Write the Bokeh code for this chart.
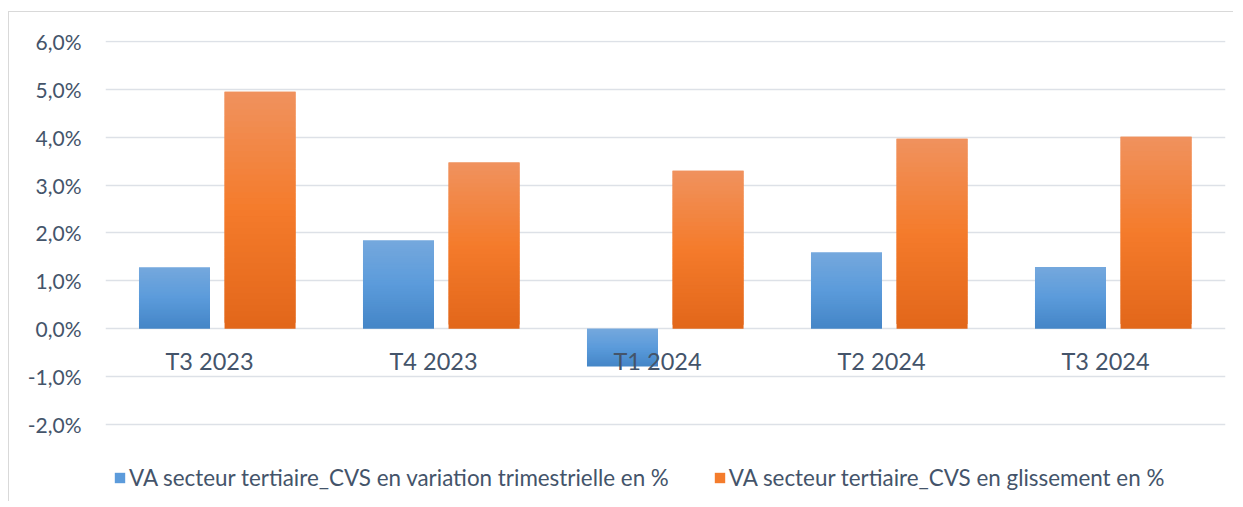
from bokeh.plotting import figure
from bokeh.models import (Range1d, FixedTicker, CustomJSTickFormatter, Legend, LegendItem,
                          ColumnDataSource)
from bokeh.core.properties import value
from bokeh.embed import file_html
from bokeh.resources import INLINE

categories = ["T3 2023", "T4 2023", "T1 2024", "T2 2024", "T3 2024"]
variation_trim = [1.28, 1.84, -0.79, 1.59, 1.29]
glissement = [4.95, 3.47, 3.30, 3.97, 4.01]
y_ticks = [-2, -1, 0, 1, 2, 3, 4, 5, 6]
series_names = ["VA secteur tertiaire_CVS en variation trimestrielle en %",
                "VA secteur tertiaire_CVS en glissement en %"]

FONT = "Lato"
TXT = "#44546A"
GRID = "#DDE1E7"

blue_stops = [(0.0, "#75A8DD"), (0.5, "#5B9BDB"), (1.0, "#4485C6")]
orange_stops = [(0.0, "#F0925E"), (0.5, "#F47B2B"), (1.0, "#E2661A")]


def hex2rgb(h):
    h = h.lstrip("#")
    return tuple(int(h[i:i + 2], 16) for i in (0, 2, 4))


def interp(stops, t):
    for (t0, c0), (t1, c1) in zip(stops[:-1], stops[1:]):
        if t0 <= t <= t1:
            f = (t - t0) / (t1 - t0) if t1 > t0 else 0
            a, b = hex2rgb(c0), hex2rgb(c1)
            return "#%02x%02x%02x" % tuple(round(a[k] + (b[k] - a[k]) * f) for k in range(3))
    return stops[-1][1]


def gradient_source(vals, offset, stops, n=40):
    # slices overlap the next one, so the gradient has no seams
    xs, tops, bottoms, colors = [], [], [], []
    for j in range(n):
        for i, v in enumerate(vals):
            lo, hi = min(0.0, v), max(0.0, v)
            y0 = lo + (hi - lo) * j / n
            y1 = lo + (hi - lo) * min(j + 2, n) / n
            t = 1.0 - (j + 0.5) / n
            xs.append(i + 0.5 + offset)
            bottoms.append(y0)
            tops.append(y1)
            colors.append(interp(stops, t))
    return ColumnDataSource(dict(x=xs, top=tops, bottom=bottoms, color=colors))


p = figure(width=1225, height=490, output_backend="svg", toolbar_location=None,
           x_range=Range1d(0, len(categories)), y_range=Range1d(-3.630, 6.02),
           min_border_left=96, min_border_right=9, min_border_top=28, min_border_bottom=0)
p.styles = {"margin-left": "8px", "margin-top": "11px",
            "border-top": "1px solid #D9D9D9", "border-left": "1px solid #D9D9D9"}
p.outline_line_color = None
p.background_fill_color = "white"
p.border_fill_color = "white"

p.xaxis.visible = False
p.xgrid.visible = False
p.yaxis.ticker = FixedTicker(ticks=y_ticks)
p.yaxis.formatter = CustomJSTickFormatter(
    code="return tick.toFixed(1).replace('.', ',') + '%';")
p.yaxis.axis_line_color = None
p.yaxis.major_tick_line_color = None
p.yaxis.minor_tick_line_color = None
p.yaxis.major_tick_in = 0
p.yaxis.major_tick_out = 0
p.yaxis.major_label_standoff = 24
p.yaxis.major_label_text_font = FONT
p.yaxis.major_label_text_font_size = "21px"
p.yaxis.major_label_text_color = TXT
p.ygrid.grid_line_color = GRID
p.ygrid.grid_line_width = 1.4

bar_w = 0.317
src_b = gradient_source(variation_trim, -0.192, blue_stops)
src_o = gradient_source(glissement, 0.19, orange_stops)
rb = p.vbar(x="x", top="top", bottom="bottom", width=bar_w, source=src_b,
            fill_color="color", line_color=None)
ro = p.vbar(x="x", top="top", bottom="bottom", width=bar_w, source=src_o,
            fill_color="color", line_color=None)

p.text(x=[i + 0.5 for i in range(len(categories))], y=[0] * len(categories), text=categories,
       x_offset=-8, y_offset=32, text_align="center", text_baseline="middle",
       text_font=value(FONT), text_font_size="23.5px", text_color=TXT)

nb = len(variation_trim)
legend = Legend(items=[LegendItem(label=series_names[0], renderers=[rb], index=20 * nb),
                       LegendItem(label=series_names[1], renderers=[ro], index=20 * nb)],
                orientation="horizontal", location=(8, 11))
legend.label_text_font = FONT
legend.label_text_font_size = "22.4px"
legend.label_text_color = TXT
legend.glyph_width = 13
legend.glyph_height = 13
legend.label_standoff = 3
legend.spacing = 44
legend.padding = 0
legend.margin = 0
legend.border_line_color = None
legend.background_fill_alpha = 0
p.add_layout(legend, "center")

open("out.html", "w").write(file_html(p, INLINE))
